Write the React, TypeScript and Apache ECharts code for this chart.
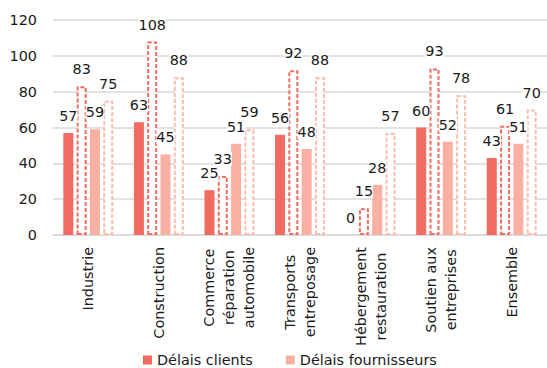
import React, { useEffect, useRef } from "react";
import * as echarts from "echarts";

// Sector labels (line breaks as shown under the axis)
const categories = [
  "Industrie",
  "Construction",
  "Commerce\nréparation\nautomobile",
  "Transports\nentreposage",
  "Hébergement\nrestauration",
  "Soutien aux\nentreprises",
  "Ensemble",
];

// Payment delays, in days
const clientsSolid = [57, 63, 25, 56, 0, 60, 43];
const clientsDashed = [83, 108, 33, 92, 15, 93, 61];
const fournisseursSolid = [59, 45, 51, 48, 28, 52, 51];
const fournisseursDashed = [75, 88, 59, 88, 57, 78, 70];

const yTicks = { min: 0, max: 120, interval: 20 };

const FONT = "DejaVu Sans, Verdana, sans-serif";
const FONT_SIZE = 14.4;
const TEXT = "#1a1a1a";
const RED = "#f06b60";
const PINK = "#f9b0a2";
const RED_DASH = "#f06b60";
const PINK_DASH = "#fcbcae";
const CAT_LINE_HEIGHT = 20;
const CAT_MARGIN = 12;

const label = {
  show: true,
  position: "top" as const,
  distance: 10,
  color: TEXT,
  fontFamily: FONT,
  fontSize: FONT_SIZE,
  backgroundColor: "#ffffff",
};

function measure(text: string): number {
  const ctx = document.createElement("canvas").getContext("2d");
  if (!ctx) return text.length * FONT_SIZE * 0.6;
  ctx.font = `${FONT_SIZE}px "DejaVu Sans", Verdana, sans-serif`;
  return ctx.measureText(text).width;
}

export default function App() {
  const ref = useRef<HTMLDivElement>(null);

  useEffect(() => {
    if (!ref.current) return;
    const chart = echarts.init(ref.current, undefined, { renderer: "svg" });
    chart.setOption({
      animation: false,
      backgroundColor: "#ffffff",
      textStyle: { fontFamily: FONT },
      grid: { left: 53, right: 0, top: 20, bottom: 133, containLabel: false },
      legend: {
        data: ["Délais clients", "Délais fournisseurs"],
        left: 138,
        top: 348,
        itemWidth: 9,
        itemHeight: 9,
        itemGap: 33,
        icon: "rect",
        textStyle: { fontFamily: FONT, fontSize: FONT_SIZE, color: TEXT },
      },
      xAxis: {
        type: "category",
        data: categories,
        axisTick: { show: false },
        axisLine: { show: true, lineStyle: { color: "#d9d9d9", width: 1.5 } },
        axisLabel: { show: false },
      },
      yAxis: {
        type: "value",
        min: yTicks.min,
        max: yTicks.max,
        interval: yTicks.interval,
        axisLine: { show: false },
        axisTick: { show: false },
        splitLine: { lineStyle: { color: "#d9d9d9", width: 1.5 } },
        axisLabel: { color: TEXT, fontFamily: FONT, fontSize: FONT_SIZE, margin: 16 },
      },
      series: [
        {
          name: "Délais clients",
          type: "bar",
          data: clientsSolid,
          barWidth: 10,
          barGap: "33%",
          itemStyle: { color: RED },
          label,
        },
        {
          name: "clientsOutline",
          type: "bar",
          data: clientsDashed,
          barWidth: 10,
          barGap: "33%",
          itemStyle: {
            color: "#ffffff",
            borderColor: RED_DASH,
            borderWidth: 2,
            borderType: [4, 2],
          },
          label,
        },
        {
          name: "Délais fournisseurs",
          type: "bar",
          data: fournisseursSolid,
          barWidth: 10,
          barGap: "33%",
          itemStyle: { color: PINK },
          label,
        },
        {
          name: "fournisseursOutline",
          type: "bar",
          data: fournisseursDashed,
          barWidth: 10,
          barGap: "33%",
          itemStyle: {
            color: "#ffffff",
            borderColor: PINK_DASH,
            borderWidth: 2,
            borderType: [4, 2],
          },
          label,
        },
      ],
    });

    // Vertical category labels: each line centred, block ending just under the axis
    const axisY = chart.convertToPixel({ yAxisIndex: 0 }, 0) as number;
    const texts: any[] = [];
    categories.forEach((cat, i) => {
      const cx = chart.convertToPixel({ xAxisIndex: 0 }, i) as number;
      const lines = cat.split("\n");
      const maxW = Math.max(...lines.map(measure));
      const cy = axisY + CAT_MARGIN + maxW / 2;
      lines.forEach((line, j) => {
        texts.push({
          type: "text",
          x: cx - ((lines.length - 1) / 2 - j) * CAT_LINE_HEIGHT,
          y: cy,
          rotation: Math.PI / 2,
          style: {
            text: line,
            fill: TEXT,
            font: `${FONT_SIZE}px ${FONT}`,
            align: "center",
            verticalAlign: "middle",
          },
        });
      });
    });
    chart.setOption({ graphic: { elements: texts } });

    return () => chart.dispose();
  }, []);

  return (
    <div
      ref={ref}
      style={{ position: "absolute", left: 0, top: 0, width: 547, height: 368 }}
    />
  );
}
